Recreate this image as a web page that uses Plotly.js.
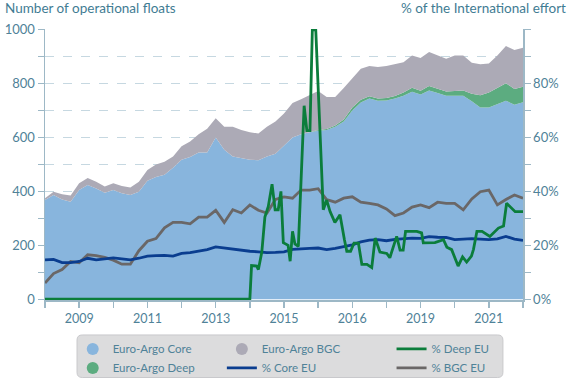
<!DOCTYPE html>
<html><head><meta charset="utf-8">
<script src="https://cdn.plot.ly/plotly-3.0.1.min.js"></script>
<style>html,body{margin:0;padding:0;background:#fff}#chart{width:570px;height:379px}</style>
</head><body><div id="chart"></div>
<script>
// ---- data ----
const quarters = [2008,2008.25,2008.5,2008.75,2009,2009.25,2009.5,2009.75,2010,2010.25,2010.5,2010.75,2011,2011.25,2011.5,2011.75,2012,2012.25,2012.5,2012.75,2013,2013.25,2013.5,2013.75,2014,2014.25,2014.5,2014.75,2015,2015.25,2015.5,2015.75,2016,2016.25,2016.5,2016.75,2017,2017.25,2017.5,2017.75,2018,2018.25,2018.5,2018.75,2019,2019.25,2019.5,2019.75,2020,2020.25,2020.5,2020.75,2021,2021.25,2021.5,2021.75,2022];
const coreFloats = [368,387,370,362,405,424,411,395,405,393,387,399,440,454,462,488,518,528,545,545,600,555,530,525,518,516,530,540,570,600,612,620,625,628,640,660,700,730,745,737,738,745,755,770,760,775,765,755,755,755,735,712,712,725,737,722,731];
const deepFloats = [0,0,0,0,0,0,0,0,0,0,0,0,0,0,0,0,0,0,0,0,0,0,0,0,0,0,0,0,0,0,0,0,3,4,5,7,12,10,8,8,9,9,12,15,14,16,15,16,18,20,28,45,55,60,65,58,58];
const bgcFloats = [7,12,20,23,25,26,25,23,25,27,28,37,40,46,48,42,50,57,67,88,72,85,110,103,102,99,110,120,119,128,130,136,145,119,106,117,108,115,113,117,119,118,113,120,121,127,125,122,132,130,115,115,108,120,138,145,144];
const corePct = [14.6,14.8,13.6,13.6,14.0,15.2,14.6,14.9,15.3,15.0,14.6,15.2,16.0,16.2,16.3,16.0,17.0,17.3,17.8,18.4,19.4,19.0,18.5,18.3,17.8,17.6,17.3,17.4,17.6,18.5,18.8,18.9,19.0,18.4,18.9,19.5,20.2,21.3,21.9,22.1,21.7,22.2,22.5,22.7,22.6,23.2,23.0,22.9,22.1,22.4,22.5,22.3,22.1,22.4,23.3,22.3,21.8];
const bgcPct = [6.0,9.5,11.0,14.0,13.5,16.5,16.2,15.5,14.5,13.0,13.0,18.0,21.5,22.5,26.5,28.5,28.5,28.0,30.5,30.5,33.0,28.5,33.2,32.0,35.0,33.0,32.0,37.0,38.0,37.5,40.5,40.5,41.0,37.0,36.0,37.5,38.0,36.0,35.6,35.0,33.5,31.0,32.0,34.2,35.0,34.0,36.0,35.6,35.6,33.2,37.2,39.9,40.5,35.0,37.0,38.7,37.5];
const deepPctX = [2008,2014.0,2014.05,2014.2,2014.25,2014.35,2014.44,2014.54,2014.65,2014.74,2014.83,2014.91,2014.98,2015.12,2015.18,2015.25,2015.32,2015.42,2015.59,2015.67,2015.76,2015.83,2015.93,2016.15,2016.25,2016.35,2016.49,2016.64,2016.77,2016.84,2016.95,2017.05,2017.18,2017.28,2017.43,2017.57,2017.67,2017.81,2018.01,2018.1,2018.3,2018.4,2018.49,2018.56,2018.89,2019.03,2019.08,2019.42,2019.67,2019.77,2019.91,2020.1,2020.23,2020.35,2020.49,2020.55,2020.65,2020.8,2021.03,2021.28,2021.43,2021.52,2021.77,2022];
const deepPct = [0,0,12.5,12.3,11.0,17.5,30.5,34.4,42.7,33.2,33.2,40,21,20,14.1,25.2,20.5,19.6,71.8,62.6,62.6,100,100,33.2,36.8,32.5,28.5,31.3,22.1,17.8,17.8,20.8,20.8,12.9,12.9,11.7,22.7,17.5,17.0,15.4,23.3,18.2,18.2,25.2,25.2,24.6,20.9,21.0,22.1,19.3,18.4,12.3,15.7,13.8,16.0,18.5,25.2,25.2,23.3,26.4,27.2,35.6,32.5,32.5];

const yearTicks = [2008,2009,2010,2011,2012,2013,2014,2015,2016,2017,2018,2019,2020,2021,2022];
const yearLabels = ['','2009','','2011','','2013','','2015','','2016','','2019','','2021',''];
const floatTicks = [0,100,200,300,400,500,600,700,800,900,1000];
const floatLabels = ['0','','200','','400','','600','','800','','1000'];
const pctTicks = [0,10,20,30,40,50,60,70,80,90,100];
const pctLabels = ['0%','','20%','','40%','','60%','','80%','',''];

const leftTitle = 'Number of operational floats';
const rightTitle = '% of the International effort';
const seriesNames = ['Euro-Argo Core','Euro-Argo Deep','Euro-Argo BGC','% Core EU','% Deep EU','% BGC EU'];

// ---- styles ----
const FONT = 'Lato, "Open Sans", sans-serif';
const TXT = '#4f8298';
const AX = '#9db8c6';
const cCore = '#88b5dd', cDeep = '#5cac80', cBgc = '#acaab6';
const lCore = '#0a3d8f', lDeep = '#0b7d3b', lBgc = '#6a6767';

const traces = [
  {x: quarters, y: coreFloats, type:'scatter', mode:'lines', stackgroup:'f', fillcolor:cCore, line:{width:0,color:cCore}, showlegend:false, hoverinfo:'skip'},
  {x: quarters, y: deepFloats, type:'scatter', mode:'lines', stackgroup:'f', fillcolor:cDeep, line:{width:0,color:cDeep}, showlegend:false, hoverinfo:'skip'},
  {x: quarters, y: bgcFloats, type:'scatter', mode:'lines', stackgroup:'f', fillcolor:cBgc, line:{width:0,color:cBgc}, showlegend:false, hoverinfo:'skip'},
  {x: quarters, y: bgcPct, yaxis:'y2', type:'scatter', mode:'lines', name:seriesNames[5], line:{color:lBgc,width:2.8}, legend:'legend3', legendrank:2},
  {x: quarters, y: corePct, yaxis:'y2', type:'scatter', mode:'lines', name:seriesNames[3], line:{color:lCore,width:2.8}, legend:'legend2', legendrank:2},
  {x: deepPctX, y: deepPct, yaxis:'y2', type:'scatter', mode:'lines', name:seriesNames[4], line:{color:lDeep,width:2.8}, legend:'legend3', legendrank:1},
  // legend symbols for the areas
  {x:[null], y:[null], type:'scatter', mode:'markers', name:seriesNames[0], marker:{size:12,color:cCore}, legend:'legend', legendrank:1},
  {x:[null], y:[null], type:'scatter', mode:'markers', name:seriesNames[1], marker:{size:12,color:cDeep}, legend:'legend', legendrank:2},
  {x:[null], y:[null], type:'scatter', mode:'markers', name:seriesNames[2], marker:{size:12,color:cBgc}, legend:'legend2', legendrank:1}
];

// plot area: x 45..523 px, y 29..300 px
const legBase = {orientation:'v', xanchor:'left', yanchor:'top', y:-0.127, traceorder:'normal', bgcolor:'rgba(0,0,0,0)', borderwidth:0,
  font:{family:FONT,size:11.5,color:TXT}, itemclick:false, itemdoubleclick:false, tracegroupgap:0};

const xL=0.067, xR=0.958, yT=-0.129, yB=-0.286, rx=0.011, ry=0.019;
const boxPath = `M${xL+rx},${yT} L${xR-rx},${yT} Q${xR},${yT} ${xR},${yT-ry} L${xR},${yB+ry} Q${xR},${yB} ${xR-rx},${yB} L${xL+rx},${yB} Q${xL},${yB} ${xL},${yB+ry} L${xL},${yT-ry} Q${xL},${yT} ${xL+rx},${yT} Z`;

const layout = {
  width:570, height:379,
  margin:{l:45, r:47, t:29, b:79, autoexpand:false},
  paper_bgcolor:'#fff', plot_bgcolor:'#fff',
  font:{family:FONT, color:TXT},
  xaxis:{range:[2008,2022], tickmode:'array', tickvals:yearTicks, ticktext:yearLabels, ticks:'outside', ticklen:6, tickwidth:1.3, tickcolor:AX,
    showline:true, linecolor:AX, linewidth:1.5, showgrid:false, zeroline:false, tickfont:{family:FONT,size:12.5,color:TXT}, fixedrange:true},
  yaxis:{range:[-3,1003], tickmode:'array', tickvals:floatTicks, ticktext:floatLabels, ticks:'outside', ticklen:6, tickwidth:1.3, tickcolor:AX,
    showline:true, linecolor:AX, linewidth:1.5, showgrid:true, gridcolor:'#c6d8e1', griddash:'dash', gridwidth:1, zeroline:false,
    tickfont:{family:FONT,size:13,color:TXT}, fixedrange:true},
  yaxis2:{overlaying:'y', side:'right', range:[-0.3,100.3], tickmode:'array', tickvals:pctTicks, ticktext:pctLabels, ticks:'outside', ticklen:6, tickwidth:1.3, tickcolor:AX,
    showline:true, linecolor:AX, linewidth:1.5, showgrid:false, zeroline:false, tickfont:{family:FONT,size:13,color:TXT}, fixedrange:true},
  legend:Object.assign({}, legBase, {x:0.058}),
  legend2:Object.assign({}, legBase, {x:0.37}),
  legend3:Object.assign({}, legBase, {x:0.725}),
  shapes:[{type:'path', xref:'paper', yref:'paper', path:boxPath, fillcolor:'#dcdcdd', line:{color:'#c9c9cc', width:1}, layer:'below'}],
  annotations:[
    {text:leftTitle, xref:'paper', yref:'paper', x:-0.088, y:1.077, xanchor:'left', yanchor:'middle', showarrow:false, font:{family:FONT,size:13.5,color:'#3f7c93'}},
    {text:rightTitle, xref:'paper', yref:'paper', x:1.094, y:1.077, xanchor:'right', yanchor:'middle', showarrow:false, font:{family:FONT,size:13.5,color:'#3f7c93'}}
  ],
  showlegend:true
};

Plotly.newPlot('chart', traces, layout, {displayModeBar:false, staticPlot:true});
</script></body></html>
